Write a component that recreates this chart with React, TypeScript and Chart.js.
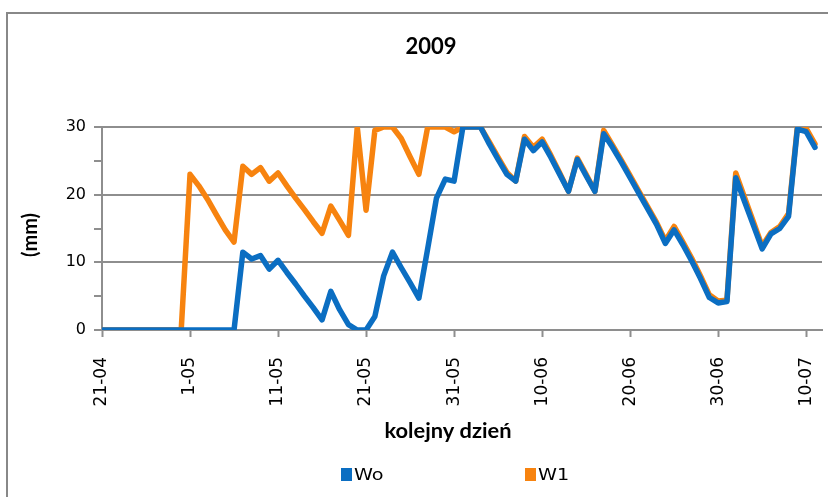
import React, { useEffect, useRef } from 'react';
import { Chart, registerables } from 'chart.js';

Chart.register(...registerables);

// x tick labels (every 10th day, starting 21-04)
const tickLabels = ['21-04', '1-05', '11-05', '21-05', '31-05', '10-06', '20-06', '30-06', '10-07'];
const seriesNames = ['Wo', 'W1'];
const chartTitle = '2009';
const xTitle = 'kolejny dzień';
const yTitle = '(mm)';

// daily values, day 0 = 21-04
const woValues = [
  0, 0, 0, 0, 0, 0, 0, 0, 0, 0,
  0, 0, 0, 0, 0, 0, 11.5, 10.5, 11, 9,
  10.3, 8.5, 6.8, 5, 3.3, 1.5, 5.7, 3, 0.8, 0,
  0, 2, 8, 11.5, 9.2, 7, 4.7, 12, 19.5, 22.3,
  22, 30, 30, 30, 27.5, 25.2, 23, 22, 28.2, 26.5,
  27.8, 25.5, 23, 20.5, 25.2, 22.8, 20.5, 29, 27, 24.8,
  22.5, 20.2, 17.9, 15.6, 12.8, 14.8, 12.6, 10.2, 7.6, 4.8,
  4.0, 4.2, 22.5, 19, 15.5, 12, 14.2, 15, 16.8, 29.7,
  29.3, 27,
];
const w1Values = [
  0, 0, 0, 0, 0, 0, 0, 0, 0, 0,
  23, 21.3, 19.3, 17, 14.8, 13, 24.2, 23, 24, 22,
  23.2, 21.3, 19.5, 17.8, 16, 14.3, 18.3, 16.2, 14, 30,
  17.7, 29.5, 30, 30, 28.3, 25.6, 23, 30, 30, 30,
  29.3, 30, 30, 30, 27.8, 25.5, 23.3, 22, 28.6, 27,
  28.2, 25.8, 23.2, 20.5, 25.4, 23, 20.5, 29.5, 27.3, 25.1,
  22.8, 20.5, 18.2, 15.9, 13.2, 15.3, 13, 10.6, 8, 5.2,
  4.3, 4.4, 23.2, 19.6, 16, 12.4, 14.4, 15.3, 17.2, 30,
  29.8, 27.5,
];

const BLUE = '#0B6EC2';
const ORANGE = '#F7830F';
const GRID = '#8E8E8E';
const X_TICK_FONT = { family: '"DejaVu Sans", Verdana, sans-serif', size: 17 };
const Y_TICK_FONT = { family: '"DejaVu Sans", Verdana, sans-serif', size: 16 };
const TITLE_FAMILY = 'Lato, "Open Sans", sans-serif';

const toPoints = (vals: number[]) => vals.map((v, i) => ({ x: i, y: v }));

const drawStretched = (
  ctx: CanvasRenderingContext2D,
  text: string,
  x: number,
  y: number,
  sx: number,
  rot = 0,
) => {
  ctx.save();
  ctx.translate(x, y);
  if (rot) ctx.rotate(rot);
  ctx.scale(sx, 1);
  ctx.fillText(text, 0, 0);
  ctx.restore();
};

const decorPlugin = {
  id: 'decor',
  afterDraw(chart: any) {
    const ctx = chart.ctx as CanvasRenderingContext2D;
    ctx.save();
    ctx.fillStyle = '#000';
    ctx.textAlign = 'center';
    ctx.textBaseline = 'middle';
    // chart title
    ctx.font = `bold 22px ${TITLE_FAMILY}`;
    drawStretched(ctx, chartTitle, 431, 47, 1.0);
    // x axis title
    ctx.font = `bold 21px ${TITLE_FAMILY}`;
    drawStretched(ctx, xTitle, 448, 431, 1.04);
    // y axis title
    ctx.font = `bold 20px ${TITLE_FAMILY}`;
    drawStretched(ctx, yTitle, 31, 235, 1.0, -Math.PI / 2);
    // legend
    const legendX = [341, 525];
    const legendY = 475;
    ctx.textAlign = 'left';
    ctx.font = `16px "DejaVu Sans", sans-serif`;
    chart.data.datasets.forEach((ds: any, i: number) => {
      const x = legendX[i];
      ctx.fillStyle = ds.borderColor;
      ctx.fillRect(x, legendY - 7, 11, 13);
      ctx.fillStyle = '#000';
      drawStretched(ctx, ds.label, x + 13, legendY + 1, 1.2);
    });
    ctx.restore();
  },
};

export default function App() {
  const canvasRef = useRef<HTMLCanvasElement | null>(null);

  useEffect(() => {
    if (!canvasRef.current) return;
    const chart = new Chart(canvasRef.current, {
      type: 'line',
      data: {
        datasets: [
          {
            label: seriesNames[0],
            data: toPoints(woValues),
            borderColor: BLUE,
            backgroundColor: BLUE,
            borderWidth: 5.5,
            pointRadius: 0,
            tension: 0,
            borderJoinStyle: 'round',
            borderCapStyle: 'round',
          },
          {
            label: seriesNames[1],
            data: toPoints(w1Values),
            borderColor: ORANGE,
            backgroundColor: ORANGE,
            borderWidth: 5.5,
            pointRadius: 0,
            tension: 0,
            borderJoinStyle: 'round',
            borderCapStyle: 'round',
          },
        ],
      },
      options: {
        responsive: false,
        animation: false,
        layout: { padding: { left: 0, right: 6, top: 127, bottom: 0 } },
        plugins: {
          legend: { display: false },
          tooltip: { enabled: false },
          title: { display: false },
        },
        scales: {
          x: {
            type: 'linear',
            min: 0,
            max: 81.8,
            afterFit: (s: any) => {
              s.height = 167;
              s.paddingLeft = 0;
              s.paddingRight = 0;
            },
            border: { color: GRID, width: 2 },
            grid: { drawOnChartArea: false, tickLength: 7, tickColor: GRID, tickWidth: 2 },
            ticks: {
              stepSize: 10,
              includeBounds: false,
              autoSkip: false,
              minRotation: 90,
              maxRotation: 90,
              padding: 20,
              color: '#000',
              font: X_TICK_FONT,
              callback: (v: any) => tickLabels[Math.round(Number(v) / 10)] ?? '',
            },
          },
          y: {
            min: 0,
            max: 30,
            afterFit: (s: any) => {
              s.width = 102;
              s.paddingTop = 0;
              s.paddingBottom = 0;
            },
            border: { color: GRID, width: 2 },
            grid: {
              color: (c: any) => (c.tick && c.tick.value % 10 === 0 ? GRID : 'rgba(0,0,0,0)'),
              lineWidth: 2,
              tickLength: 8,
              tickColor: GRID,
              tickWidth: 2,
            },
            ticks: {
              stepSize: 5,
              padding: 8,
              color: '#000',
              font: Y_TICK_FONT,
              callback: (v: any) => (Number(v) % 10 === 0 ? String(v) : ''),
            },
          },
        },
      },
      plugins: [decorPlugin],
    } as any);
    return () => chart.destroy();
  }, []);

  return (
    <div
      style={{
        position: 'fixed',
        left: 0,
        top: 0,
        width: 828,
        height: 497,
        overflow: 'hidden',
        background: '#fff',
      }}
    >
      <div
        style={{
          position: 'absolute',
          left: 6,
          top: 12,
          width: 1000,
          height: 1000,
          borderLeft: '2px solid #888',
          borderTop: '2px solid #888',
        }}
      />
      <canvas
        ref={canvasRef}
        width={828}
        height={497}
        style={{ position: 'absolute', left: 0, top: 0, width: 828, height: 497 }}
      />
    </div>
  );
}
